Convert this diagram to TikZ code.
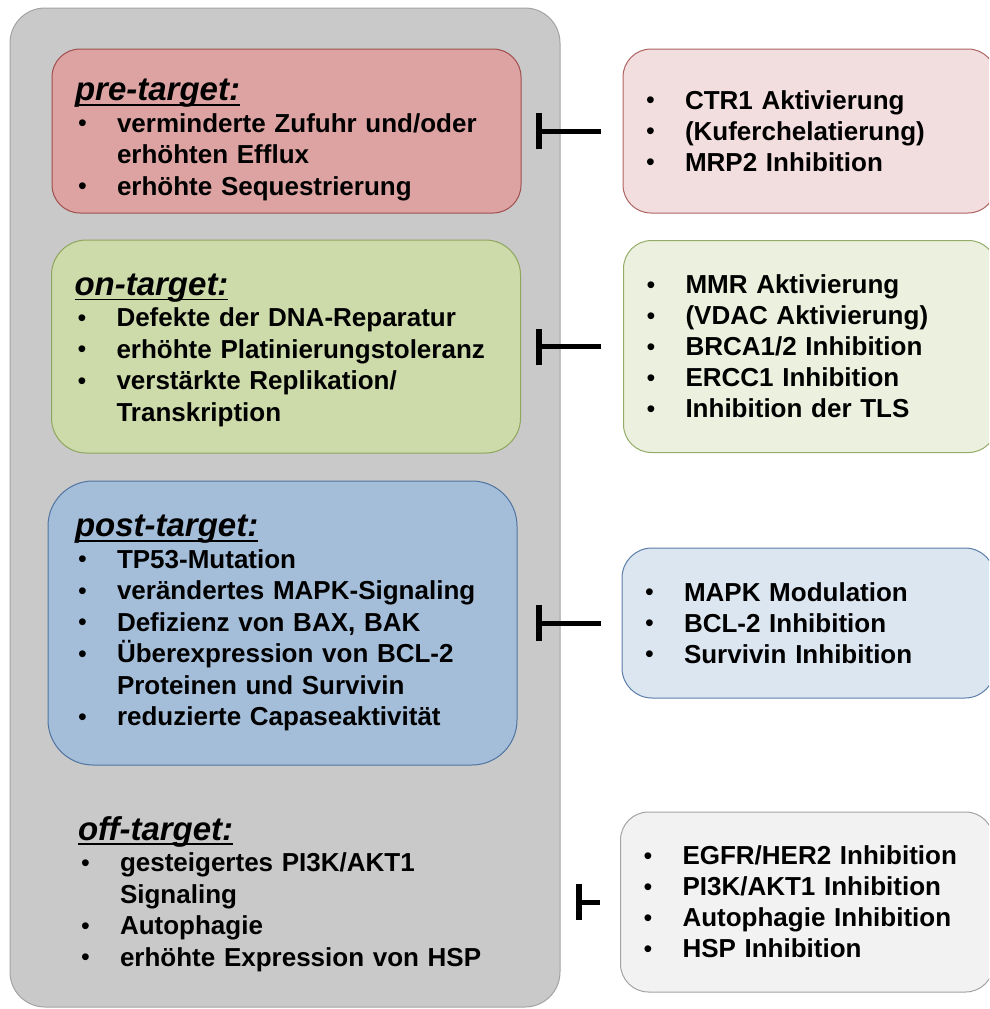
\documentclass[tikz,border=0pt]{standalone}
\usepackage{fontspec}
\setmainfont{Liberation Sans}
\usetikzlibrary{positioning,arrows.meta}
\definecolor{bgF}{HTML}{C9C9C9}\definecolor{bgD}{HTML}{A3A3A3}
\definecolor{preF}{HTML}{DCA3A2}\definecolor{preD}{HTML}{A04F4E}
\definecolor{onF}{HTML}{CDDAAA}\definecolor{onD}{HTML}{8FA65D}
\definecolor{postF}{HTML}{A4BEDA}\definecolor{postD}{HTML}{4F74A0}
\definecolor{rpreF}{HTML}{F2DEDE}\definecolor{rpreD}{HTML}{AD6463}
\definecolor{ronF}{HTML}{EBF1DE}\definecolor{ronD}{HTML}{95AC69}
\definecolor{rpostF}{HTML}{DCE6F1}\definecolor{rpostD}{HTML}{5A7EA8}
\definecolor{roffF}{HTML}{F2F2F2}\definecolor{roffD}{HTML}{A3A3A3}
\newcommand{\itm}{\makebox[42pt][l]{\hspace{3pt}{\mdseries\fontsize{25}{25}\selectfont\raisebox{0.5pt}{\textbullet}}}}
\newcommand{\cnt}{\hspace*{42pt}}
\newcommand{\ttl}[1]{{\fontsize{33}{33}\selectfont\itshape\setbox0\hbox{#1}\rlap{\rule[-5pt]{\wd0}{1.8pt}}\box0}}

\begin{document}
\begin{tikzpicture}[x=1pt, y=-1pt,
  cbox/.style={draw, rounded corners=28pt, line width=1pt, align=left, font=\fontsize{26}{31.5}\selectfont\bfseries, inner xsep=23pt, text width=423pt},
  rbox/.style={draw, rounded corners=28pt, line width=1pt, align=left, font=\fontsize{26}{31}\selectfont\bfseries, inner xsep=20pt, text width=333pt},
  inh/.style={-{Bar[width=36pt, line width=6pt]}, line width=5pt}]
\useasboundingbox (0,0) rectangle (989,1009);
\clip (0,0) rectangle (989,1009);
\node[draw=bgD, fill=bgF, rounded corners=35pt, line width=1pt, minimum width=550pt, minimum height=999pt] (bg) at (285,507.5) {};
% left column
\node[cbox, fill=preF, draw=preD, minimum height=164pt] (pre) at (286.5,131) {\rule{0pt}{40pt}\ttl{pre-target:}\\
  \itm verminderte Zufuhr und/oder\\ \cnt erhöhten Efflux\\ \itm erhöhte Sequestrierung};
\node[cbox, fill=onF, draw=onD, minimum height=213pt, rounded corners=35pt] (on) at (286,346.5) {\rule{0pt}{29pt}\ttl{on-target:}\\
  \itm Defekte der DNA-Reparatur\\ \itm erhöhte Platinierungstoleranz\\ \itm verstärkte Replikation/\\ \cnt Transkription};
\node[cbox, fill=postF, draw=postD, minimum height=284pt, rounded corners=45pt, inner xsep=27pt, text width=415pt] (post) at (282.5,623) {\ttl{post-target:}\\
  \itm TP53-Mutation\\ \itm verändertes MAPK-Signaling\\ \itm Defizienz von BAX, BAK\\ \itm Überexpression von BCL-2\\ \cnt Proteinen und Survivin\\ \itm reduzierte Capaseaktivität};
\node[cbox, draw=none, inner xsep=26pt, text width=417pt] (off) at (286.5,894) {\ttl{off-target:}\\
  \itm gesteigertes PI3K/AKT1\\ \cnt Signaling\\ \itm Autophagie\\ \itm erhöhte Expression von HSP};
% right column
\node[rbox, fill=rpreF, draw=rpreD, minimum height=164pt, right=101pt of pre] (rpre) {\itm CTR1 Aktivierung\\ \itm (Kuferchelatierung)\\ \itm MRP2 Inhibition};
\node[rbox, fill=ronF, draw=ronD, minimum height=212pt, right=102pt of on] (ron) {\itm MMR Aktivierung\\ \itm (VDAC Aktivierung)\\ \itm BRCA1/2 Inhibition\\ \itm ERCC1 Inhibition\\ \itm Inhibition der TLS};
\node[rbox, fill=rpostF, draw=rpostD, minimum height=150pt, rounded corners=30pt, right=104pt of post] (rpost) {\itm MAPK Modulation\\ \itm BCL-2 Inhibition\\ \itm Survivin Inhibition};
\node[rbox, fill=roffF, draw=roffD, minimum height=180pt, anchor=west] (roff) at (620,902) {\itm EGFR/HER2 Inhibition\\ \itm PI3K/AKT1 Inhibition\\ \itm Autophagie Inhibition\\ \itm HSP Inhibition};
\draw[inh, shorten <=22pt, shorten >=14pt] (rpre.west) -- (pre.east);
\draw[inh, shorten <=22pt, shorten >=15pt] (ron.west) -- (on.east);
\draw[inh, shorten <=21pt, shorten >=18pt] (rpost.west) -- (post.east);
\draw[inh, shorten <=20pt, shorten >=54pt] (roff.west) -- (roff.west -| off.east);
\end{tikzpicture}
\end{document}
